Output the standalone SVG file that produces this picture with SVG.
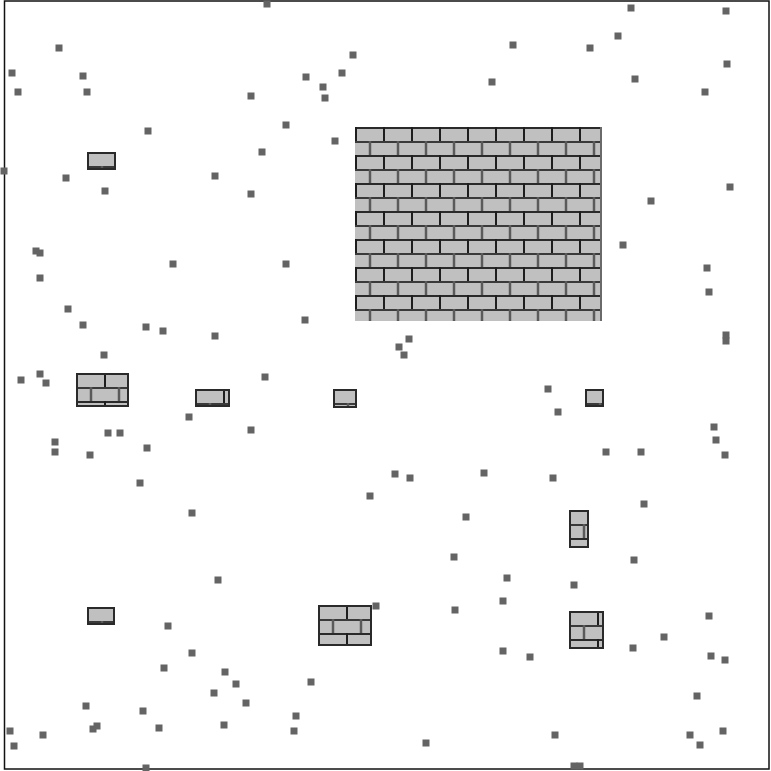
<svg xmlns="http://www.w3.org/2000/svg" xmlns:xlink="http://www.w3.org/1999/xlink" width="771" height="771" viewBox="0 0 771 771">
<style>
.wall{fill:url(#brick)}
.edge{fill:none;stroke:#2a2a2a;stroke-width:2}
.dot{fill:#646464}
</style>
<defs>
<pattern id="brick" patternUnits="userSpaceOnUse" x="0" y="0" width="28" height="28">
<rect width="28" height="28" fill="#c0c0c0"/>
<line x1="0" y1="1" x2="28" y2="1" stroke="#2a2a2a" stroke-width="2"/>
<line x1="0" y1="15" x2="28" y2="15" stroke="#3a3a3a" stroke-width="2"/>
<line x1="1" y1="0" x2="1" y2="14" stroke="#1e1e1e" stroke-width="2"/>
<line x1="15" y1="14" x2="15" y2="28" stroke="#5a5a5a" stroke-width="2.5"/>
</pattern>
<rect id="dot" x="-3.5" y="-3.5" width="7" height="7"/>
</defs>
<rect width="771" height="771" fill="#fff"/>
<rect x="4.5" y="1" width="764.5" height="768" fill="none" stroke="#111" stroke-width="1.5"/>
<g id="walls">
<g id="wall1" transform="translate(355,127)"><rect class="wall" width="247" height="194"/><line x1="246" y1="0" x2="246" y2="194" stroke="#6a6a6a" stroke-width="2"/></g>
<g id="wall2" transform="translate(87,152)"><rect class="wall" width="29" height="18"/><rect class="edge" x="1" y="1" width="27" height="16"/></g>
<g id="wall3" transform="translate(76,373)"><rect class="wall" width="53" height="34"/><rect class="edge" x="1" y="1" width="51" height="32"/></g>
<g id="wall4" transform="translate(195,389)"><rect class="wall" width="35" height="18"/><rect class="edge" x="1" y="1" width="33" height="16"/></g>
<g id="wall5" transform="translate(333,389)"><rect class="wall" width="24" height="19"/><rect class="edge" x="1" y="1" width="22" height="17"/></g>
<g id="wall6" transform="translate(585,389)"><rect class="wall" width="19" height="18"/><rect class="edge" x="1" y="1" width="17" height="16"/></g>
<g id="wall7" transform="translate(569,510)"><rect class="wall" width="20" height="38"/><rect class="edge" x="1" y="1" width="18" height="36"/></g>
<g id="wall8" transform="translate(569,611)"><rect class="wall" width="35" height="38"/><rect class="edge" x="1" y="1" width="33" height="36"/></g>
<g id="wall9" transform="translate(318,605)"><rect class="wall" width="54" height="41"/><rect class="edge" x="1" y="1" width="52" height="39"/></g>
<g id="wall10" transform="translate(87,607)"><rect class="wall" width="28" height="18"/><rect class="edge" x="1" y="1" width="26" height="16"/></g>
</g>
<g id="dots" class="dot">
<use href="#dot" x="267" y="4"/><use href="#dot" x="631" y="8"/><use href="#dot" x="726" y="11"/>
<use href="#dot" x="59" y="48"/><use href="#dot" x="513" y="45"/><use href="#dot" x="353" y="55"/>
<use href="#dot" x="590" y="48"/><use href="#dot" x="618" y="36"/><use href="#dot" x="12" y="73"/>
<use href="#dot" x="83" y="76"/><use href="#dot" x="306" y="77"/><use href="#dot" x="342" y="73"/>
<use href="#dot" x="727" y="64"/><use href="#dot" x="635" y="79"/><use href="#dot" x="18" y="92"/>
<use href="#dot" x="87" y="92"/><use href="#dot" x="323" y="87"/><use href="#dot" x="325" y="98"/>
<use href="#dot" x="251" y="96"/><use href="#dot" x="492" y="82"/><use href="#dot" x="705" y="92"/>
<use href="#dot" x="148" y="131"/><use href="#dot" x="286" y="125"/><use href="#dot" x="335" y="141"/>
<use href="#dot" x="262" y="152"/><use href="#dot" x="66" y="178"/><use href="#dot" x="215" y="176"/>
<use href="#dot" x="105" y="191"/><use href="#dot" x="251" y="194"/><use href="#dot" x="730" y="187"/>
<use href="#dot" x="651" y="201"/><use href="#dot" x="4" y="171"/><use href="#dot" x="36" y="251"/>
<use href="#dot" x="40" y="253"/><use href="#dot" x="173" y="264"/><use href="#dot" x="286" y="264"/>
<use href="#dot" x="623" y="245"/><use href="#dot" x="40" y="278"/><use href="#dot" x="707" y="268"/>
<use href="#dot" x="709" y="292"/><use href="#dot" x="68" y="309"/><use href="#dot" x="305" y="320"/>
<use href="#dot" x="83" y="325"/><use href="#dot" x="146" y="327"/><use href="#dot" x="163" y="331"/>
<use href="#dot" x="215" y="336"/><use href="#dot" x="409" y="339"/><use href="#dot" x="399" y="347"/>
<use href="#dot" x="404" y="355"/><use href="#dot" x="726" y="335"/><use href="#dot" x="726" y="341"/>
<use href="#dot" x="104" y="355"/><use href="#dot" x="21" y="380"/><use href="#dot" x="40" y="374"/>
<use href="#dot" x="46" y="383"/><use href="#dot" x="265" y="377"/><use href="#dot" x="548" y="389"/>
<use href="#dot" x="558" y="412"/><use href="#dot" x="189" y="417"/><use href="#dot" x="251" y="430"/>
<use href="#dot" x="714" y="427"/><use href="#dot" x="716" y="440"/><use href="#dot" x="725" y="455"/>
<use href="#dot" x="55" y="442"/><use href="#dot" x="55" y="452"/><use href="#dot" x="108" y="433"/>
<use href="#dot" x="120" y="433"/><use href="#dot" x="147" y="448"/><use href="#dot" x="90" y="455"/>
<use href="#dot" x="606" y="452"/><use href="#dot" x="641" y="452"/><use href="#dot" x="395" y="474"/>
<use href="#dot" x="410" y="478"/><use href="#dot" x="484" y="473"/><use href="#dot" x="553" y="478"/>
<use href="#dot" x="140" y="483"/><use href="#dot" x="370" y="496"/><use href="#dot" x="644" y="504"/>
<use href="#dot" x="466" y="517"/><use href="#dot" x="192" y="513"/><use href="#dot" x="454" y="557"/>
<use href="#dot" x="634" y="560"/><use href="#dot" x="218" y="580"/><use href="#dot" x="507" y="578"/>
<use href="#dot" x="574" y="585"/><use href="#dot" x="503" y="601"/><use href="#dot" x="376" y="606"/>
<use href="#dot" x="455" y="610"/><use href="#dot" x="168" y="626"/><use href="#dot" x="709" y="616"/>
<use href="#dot" x="664" y="637"/><use href="#dot" x="633" y="648"/><use href="#dot" x="192" y="653"/>
<use href="#dot" x="503" y="651"/><use href="#dot" x="530" y="657"/><use href="#dot" x="711" y="656"/>
<use href="#dot" x="725" y="660"/><use href="#dot" x="164" y="668"/><use href="#dot" x="225" y="672"/>
<use href="#dot" x="236" y="684"/><use href="#dot" x="311" y="682"/><use href="#dot" x="214" y="693"/>
<use href="#dot" x="246" y="703"/><use href="#dot" x="697" y="696"/><use href="#dot" x="86" y="706"/>
<use href="#dot" x="143" y="711"/><use href="#dot" x="97" y="726"/><use href="#dot" x="93" y="729"/>
<use href="#dot" x="159" y="728"/><use href="#dot" x="224" y="725"/><use href="#dot" x="296" y="716"/>
<use href="#dot" x="294" y="731"/><use href="#dot" x="10" y="731"/><use href="#dot" x="43" y="735"/>
<use href="#dot" x="14" y="746"/><use href="#dot" x="426" y="743"/><use href="#dot" x="555" y="735"/>
<use href="#dot" x="690" y="735"/><use href="#dot" x="723" y="731"/><use href="#dot" x="700" y="745"/>
<use href="#dot" x="146" y="768"/><use href="#dot" x="574" y="766"/><use href="#dot" x="580" y="766"/>
</g>
</svg>
